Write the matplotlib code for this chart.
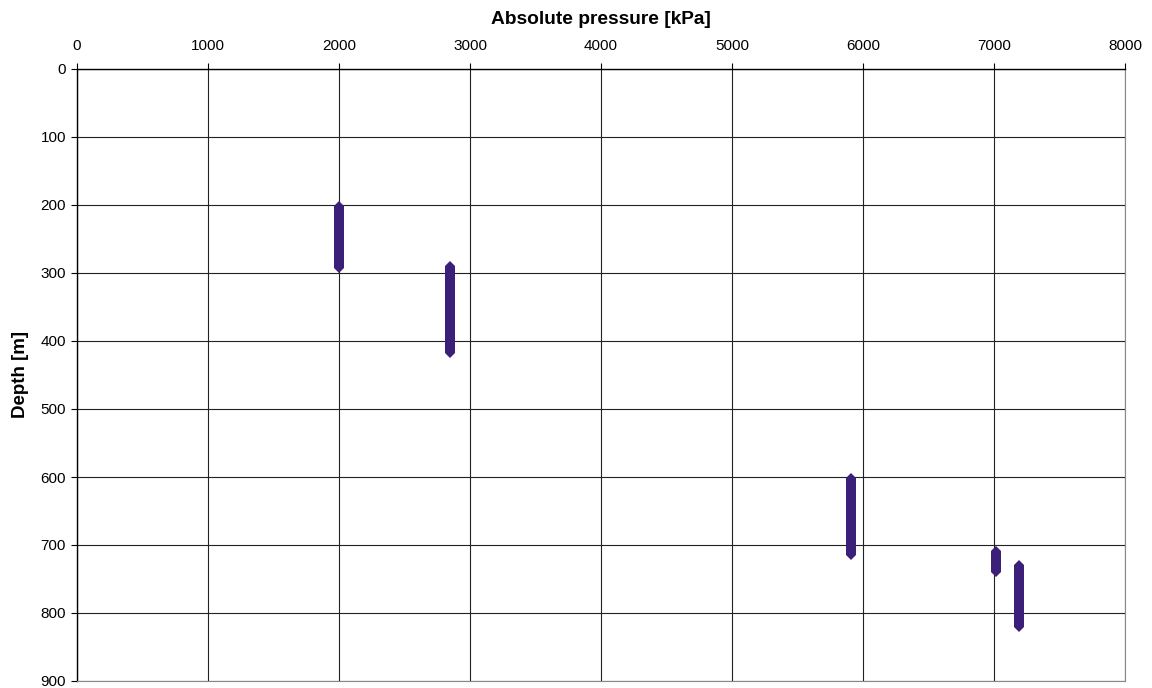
import numpy as np
import matplotlib
matplotlib.use("Agg")
import matplotlib.pyplot as plt

plt.rcParams['font.family'] = ['Liberation Sans', 'DejaVu Sans']

# measured intervals: pressure [kPa], top and bottom depth [m]
pressure = [2000, 2850, 5910, 7015, 7190]
depth_top = [202, 290, 602, 709, 730]
depth_bot = [292, 417, 715, 740, 820]

x_ticks = [0, 1000, 2000, 3000, 4000, 5000, 6000, 7000, 8000]
y_ticks = [0, 100, 200, 300, 400, 500, 600, 700, 800, 900]

bar_col = '#3b1f78'

fig = plt.figure(figsize=(11.52, 6.88), dpi=100)
ax = fig.add_axes([77/1152, 1 - 681/688, (1125 - 77)/1152, (681 - 69)/688])

for p, t, b in zip(pressure, depth_top, depth_bot):
    ax.plot([p, p], [t, b], color=bar_col, lw=7.2, solid_capstyle='butt',
            marker='D', markersize=5.1, markeredgewidth=0, zorder=3)

ax.set_xlim(0, 8000)
ax.set_ylim(900, 0)
ax.set_xticks(x_ticks)
ax.set_yticks(y_ticks)
ax.xaxis.tick_top()
ax.xaxis.set_label_position('top')
ax.tick_params(axis='both', labelsize=11, length=4, width=0.8, color='black', pad=4)
ax.tick_params(axis='x', pad=7.5)

ax.grid(True, color='#222222', lw=0.8)
ax.set_axisbelow(True)
for s in ['right', 'bottom']:
    ax.spines[s].set_color('#888888')
    ax.spines[s].set_linewidth(0.8)
for s in ['left', 'top']:
    ax.spines[s].set_color('black')
    ax.spines[s].set_linewidth(1.0)

ax.set_xlabel('Absolute pressure [kPa]', fontsize=13.8, fontweight='bold', labelpad=11)
ax.set_ylabel('Depth [m]', fontsize=13.5, fontweight='bold', labelpad=8)

fig.savefig('out.png', dpi=100)
